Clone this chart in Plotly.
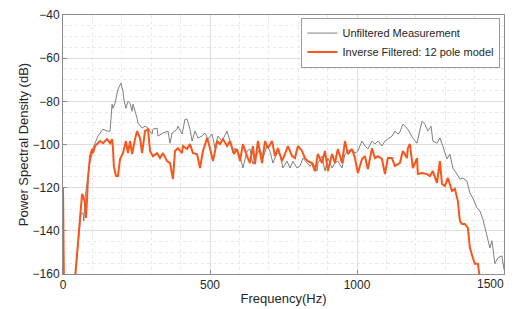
import plotly.graph_objects as go

# Unfiltered measurement (gray)
freq_raw = [41, 48, 51, 61, 68, 71, 75, 82, 85, 92, 99, 102, 109, 116, 119, 126, 136, 150, 160, 167,
            170, 177, 184, 187, 197, 204, 207, 214, 221, 228, 235, 238, 252, 255, 269, 279, 289, 303, 306, 320,
            323, 340, 357, 364, 371, 388, 391, 405, 415, 422, 432, 439, 449, 459, 473, 483, 493, 507, 517, 527,
            541, 558, 568, 578, 585, 602, 612, 626, 636, 646, 660, 670, 680, 694, 704, 714, 728, 738, 748, 762,
            772, 782, 796, 806, 816, 830, 840, 850, 864, 867, 881, 891, 901, 915, 925, 935, 949, 959, 969, 983,
            993, 1003, 1017, 1027, 1037, 1051, 1061, 1071, 1085, 1095, 1105, 1119, 1129, 1139, 1146, 1156, 1170, 1180, 1190, 1204,
            1214, 1221, 1231, 1241, 1252, 1258, 1272, 1282, 1292, 1306, 1316, 1326, 1340, 1350, 1360, 1374, 1384, 1394, 1408, 1418,
            1428, 1442, 1452, 1459, 1469, 1479, 1493, 1500]
psd_raw = [-162, -151, -145.5, -132, -131.7, -135.4, -124.8, -117.8, -112.3, -107.7, -104.4, -101.7, -99.4, -97, -96.1, -94.7, -92.9, -93.8, -93.8, -81.3,
           -83.2, -80.9, -76.7, -74.4, -71.6, -75.3, -79, -83.2, -80, -80.9, -84.6, -81.3, -87.8, -90.1, -92.4, -91.5, -92.4, -95.2, -92.9, -92.4,
           -96.1, -94.7, -93.8, -99.4, -94.7, -92.9, -91.5, -95.2, -88.3, -88.3, -92.9, -98.4, -93.8, -97, -96.1, -94.7, -97.5, -95.2, -101.7, -96.1,
           -98.4, -93.8, -98.4, -104, -101.7, -105.4, -110.9, -103, -102.1, -109.1, -104.4, -102.1, -106.3, -100.7, -103, -108.6, -104, -104.4, -110.9, -107.7,
           -110.9, -107.7, -110.9, -110, -106.3, -108.6, -110, -108.6, -112.3, -108.6, -105.4, -112.3, -106.3, -110.9, -108.6, -107.7, -110.9, -104.4, -103, -102.1,
           -104, -103, -98.4, -100.7, -102.1, -98.4, -99.8, -98.4, -100.7, -98.4, -97.5, -96.1, -93.8, -95.2, -94.2, -90.6, -92.4, -94.7, -97, -99.4,
           -93.8, -89.2, -90.6, -93.8, -91.5, -98.4, -99.4, -97, -100.7, -106.7, -104.4, -110.9, -113.7, -116, -115.5, -117, -122.5, -124.8, -129.4, -130.8,
           -134.5, -143.2, -147.9, -144.6, -155.2, -152.5, -151.6, -158]

# Inverse filtered, 12 pole model (orange)
freq_inv = [0, 3, 41, 48, 51, 58, 65, 68, 75, 78, 82, 85, 92, 99, 102, 109, 116, 126, 136, 150,
            160, 167, 170, 173, 180, 187, 194, 204, 214, 221, 228, 235, 245, 252, 262, 269, 279, 289, 296, 306,
            320, 330, 340, 354, 364, 374, 381, 391, 405, 408, 422, 432, 442, 456, 466, 476, 490, 500, 510, 524,
            534, 544, 558, 568, 582, 592, 602, 612, 626, 636, 646, 653, 663, 677, 687, 697, 711, 721, 731, 745,
            755, 765, 779, 789, 799, 813, 823, 833, 847, 857, 867, 881, 891, 901, 915, 925, 935, 949, 959, 969,
            983, 993, 1003, 1017, 1027, 1037, 1051, 1061, 1071, 1085, 1095, 1105, 1119, 1129, 1139, 1146, 1156, 1170, 1173, 1180,
            1190, 1204, 1207, 1221, 1238, 1248, 1258, 1272, 1282, 1289, 1299, 1309, 1323, 1333, 1343, 1350, 1357, 1367, 1377, 1384,
            1394, 1401, 1411, 1418]
psd_inv = [-120.1, -162, -162, -149.2, -143.7, -134, -122.9, -123.8, -127.1, -134, -124.8, -115.5, -105.4, -102.1, -104, -100.7, -99.8, -98.4, -99.4, -97.5,
           -99.4, -97.5, -101.7, -110, -114.6, -114.6, -106.7, -104, -98.4, -104, -98.4, -104.4, -97.5, -93.8, -97, -104, -93.8, -92.9, -103, -105.4,
           -104, -106.3, -104, -107.7, -108.6, -116, -103, -101.7, -104, -100.7, -102.1, -99.8, -104, -104.4, -110.9, -103, -97, -101.7, -107.7, -98.4,
           -99.8, -97.5, -100.7, -98.4, -104.4, -102.1, -107.7, -99.8, -105.4, -108.6, -100.7, -109.1, -98.4, -108.6, -98.4, -101.7, -98.4, -105.4, -101.7, -107.7,
           -104.4, -100.7, -105.4, -106.3, -100.7, -103, -106.3, -107.7, -108.6, -112.3, -104.4, -108.6, -103, -112.3, -104.4, -108.6, -102.1, -108.6, -98.4, -104.4,
           -102.1, -106.3, -113.2, -106.7, -105.4, -111.4, -101.7, -106.3, -105.4, -106.7, -113.7, -106.3, -106.3, -110, -109.1, -108.6, -103, -106.3, -101.7, -99.8,
           -110.9, -106.3, -113.7, -113.2, -113.7, -114.6, -112.3, -117.8, -107.7, -118.3, -119.2, -115.5, -121.5, -120.6, -126.1, -135.4, -136.8, -136.8, -138.6, -147.9,
           -152.5, -155.2, -155.2, -162]

x_ticks = [0, 500, 1000, 1500]
x_ticklabels = ["0", "500", "1000", ""]   # last label drawn as annotation so it stays inside the page
y_ticks = [-40, -60, -80, -100, -120, -140, -160]

FONT = "Liberation Sans, Arial, Helvetica, sans-serif"
TXT = "#262626"

fig = go.Figure()
fig.add_trace(go.Scatter(x=freq_raw, y=psd_raw, mode="lines", name="Unfiltered Measurement",
                         line=dict(color="#7f7f7f", width=1)))
fig.add_trace(go.Scatter(x=freq_inv, y=psd_inv, mode="lines", name="Inverse Filtered: 12 pole model",
                         line=dict(color="#f8561a", width=2)))

axis_common = dict(
    showline=True, linecolor="#8c8c8c", linewidth=1, mirror=True,
    ticks="inside", ticklen=4, tickcolor="#8c8c8c",
    showgrid=True, gridcolor="#dedede", gridwidth=1,
    zeroline=False, automargin=False, ticklabeloverflow="allow",
    tickfont=dict(family=FONT, size=12, color=TXT),
)

fig.update_xaxes(range=[0, 1500], tickvals=x_ticks, ticktext=x_ticklabels,
                 minor=dict(dtick=100, showgrid=True, gridcolor="#e8e8e8", griddash="dot", ticks=""),
                 title=dict(text="Frequency(Hz)", font=dict(family=FONT, size=13, color=TXT), standoff=2),
                 **axis_common)
fig.update_yaxes(range=[-160, -40], tickvals=y_ticks,
                 minor=dict(dtick=5, showgrid=True, gridcolor="#e8e8e8", griddash="dot", ticks=""),
                 title=dict(text="Power Spectral Density (dB)", font=dict(family=FONT, size=13, color=TXT), standoff=1),
                 **axis_common)

fig.add_annotation(x=x_ticks[-1], y=0, xref="x", yref="paper", text=str(x_ticks[-1]),
                   showarrow=False, xanchor="center", yanchor="top", xshift=-14, yshift=-1,
                   font=dict(family=FONT, size=12, color=TXT))

fig.update_layout(
    width=509, height=301,
    margin=dict(l=55, r=13, t=7, b=35),
    paper_bgcolor="white", plot_bgcolor="white",
    showlegend=True,
    legend=dict(x=0.992, y=0.99, xanchor="right", yanchor="top",
                bgcolor="white", bordercolor="#9a9a9a", borderwidth=1,
                font=dict(family=FONT, size=11, color=TXT),
                tracegroupgap=0, itemwidth=30),
)

fig.write_html("out.html")
